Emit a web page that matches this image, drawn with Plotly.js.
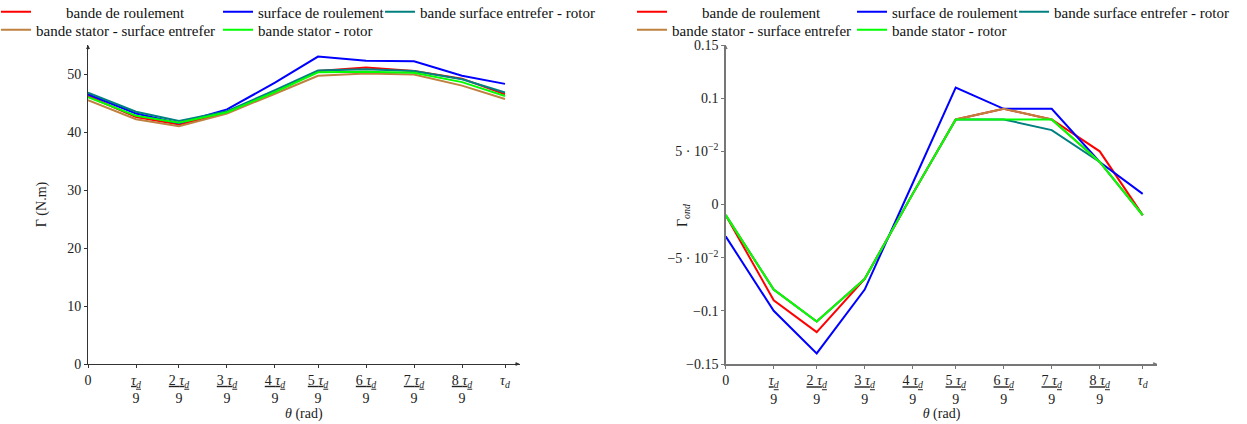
<!DOCTYPE html>
<html><head><meta charset="utf-8">
<script src="https://cdn.plot.ly/plotly-3.0.1.min.js"></script>
<style>html,body{margin:0;padding:0;background:#fff}#chart{width:1247px;height:424px}</style>
</head><body><div id="chart"></div>
<script>
// angular positions, as fractions of tau_d
const thetaPos = [0, 0.1151, 0.2182, 0.3333, 0.4484, 0.5516, 0.6667, 0.7818, 0.8969, 1];
const thetaLabels = ["0",
  "<u><i>τ</i><sub><i>d</i></sub></u><br>9",
  "<u>2 <i>τ</i><sub><i>d</i></sub></u><br>9",
  "<u>3 <i>τ</i><sub><i>d</i></sub></u><br>9",
  "<u>4 <i>τ</i><sub><i>d</i></sub></u><br>9",
  "<u>5 <i>τ</i><sub><i>d</i></sub></u><br>9",
  "<u>6 <i>τ</i><sub><i>d</i></sub></u><br>9",
  "<u>7 <i>τ</i><sub><i>d</i></sub></u><br>9",
  "<u>8 <i>τ</i><sub><i>d</i></sub></u><br>9",
  "<i>τ</i><sub><i>d</i></sub>"];

const seriesNames = ["bande de roulement", "surface de roulement", "bande surface entrefer - rotor",
  "bande stator - surface entrefer", "bande stator - rotor"];

// Torque Γ (N.m)
const torqueBandeRoulement   = [46.2, 42.6, 41.3, 43.3, 47.0, 50.5, 51.1, 50.5, 49.2, 46.5];
const torqueSurfaceRoulement = [46.5, 43.2, 41.5, 43.9, 48.5, 53.0, 52.3, 52.2, 49.7, 48.3];
const torqueSurfEntRotor     = [46.8, 43.5, 41.9, 43.6, 47.2, 50.6, 50.8, 50.5, 49.1, 46.8];
const torqueStatorSurfEnt    = [45.5, 42.2, 41.0, 43.2, 46.6, 49.7, 50.1, 49.9, 48.0, 45.7];
const torqueStatorRotor      = [46.0, 42.8, 41.6, 43.4, 46.9, 50.3, 50.4, 50.2, 48.6, 46.2];

// Ripple Γ_ond
const rippleBandeRoulement   = [-0.01, -0.09, -0.12, -0.07, 0.01, 0.08, 0.09, 0.08, 0.05, -0.01];
const rippleSurfaceRoulement = [-0.03, -0.10, -0.14, -0.08, 0.02, 0.11, 0.09, 0.09, 0.04, 0.01];
const rippleSurfEntRotor     = [-0.01, -0.08, -0.11, -0.07, 0.01, 0.08, 0.08, 0.07, 0.04, -0.01];
const rippleStatorSurfEnt    = [-0.01, -0.08, -0.11, -0.07, 0.01, 0.08, 0.09, 0.08, 0.04, -0.01];
const rippleStatorRotor      = [-0.01, -0.08, -0.11, -0.07, 0.01, 0.08, 0.08, 0.08, 0.04, -0.01];

const rippleTickVals = [-0.15, -0.1, -0.05, 0, 0.05, 0.1, 0.15];
const rippleTickText = ["−0.15", "−0.1", "−5 · 10<sup>−2</sup>", "0", "5 · 10<sup>−2</sup>", "0.1", "0.15"];
const torqueTickVals = [0, 10, 20, 30, 40, 50];

const colors = ["#ff0000", "#0000ff", "#008080", "#bf8040", "#00ff00"];
const pad = "\u00a0".repeat(8);
const legendText = [pad + seriesNames[0], seriesNames[1], seriesNames[2], seriesNames[3], seriesNames[4]];

const torque = [torqueBandeRoulement, torqueSurfaceRoulement, torqueSurfEntRotor, torqueStatorSurfEnt, torqueStatorRotor];
const ripple = [rippleBandeRoulement, rippleSurfaceRoulement, rippleSurfEntRotor, rippleStatorSurfEnt, rippleStatorRotor];

const W = 1247, H = 424;
const FAM = "Liberation Serif";
const font = {family: FAM, size: 14, color: "#222"};
const legFont = {family: FAM, size: 15, color: "#111"};
// legend slots: [left px, row centre px] for each series, left chart then right chart
const legLeft = [[-4, 12], [218, 12], [380, 12], [-4, 30], [218, 30]];
const legRight = [[632, 12], [852, 12], [1014, 12], [632, 30], [852, 30]];

const traces = [];
const layoutLegends = {};
function leg(p) {
  return {x: p[0] / W, y: 1 - p[1] / H, xref: "paper", yref: "paper", xanchor: "left", yanchor: "middle",
    orientation: "v", bgcolor: "rgba(0,0,0,0)", borderwidth: 0, font: legFont, itemwidth: 30, tracegroupgap: 0,
    visible: true};
}
torque.forEach((ys, i) => {
  const lg = i === 0 ? "legend" : "legend" + (i + 1);
  layoutLegends[lg] = leg(legLeft[i]);
  traces.push({x: thetaPos, y: ys, mode: "lines", name: legendText[i], showlegend: true,
    line: {color: colors[i], width: 2}, xaxis: "x", yaxis: "y", legend: lg});
});
ripple.forEach((ys, i) => {
  const lg = "legend" + (i + 6);
  layoutLegends[lg] = leg(legRight[i]);
  traces.push({x: thetaPos, y: ys, mode: "lines", name: legendText[i], showlegend: true,
    line: {color: colors[i], width: 2}, xaxis: "x2", yaxis: "y2", legend: lg});
});

const yDom = [1 - 364 / H, 1 - 45 / H];
function xax(dom, lineColor, lw) {
  return {domain: dom, range: [0, 1.035], tickvals: thetaPos, ticktext: thetaLabels, ticks: "outside",
    ticklen: 3, tickcolor: lineColor, showline: true, linecolor: lineColor, linewidth: lw,
    showgrid: false, zeroline: false, tickfont: font, tickangle: 0,
    title: {text: "<i>θ</i> (rad)", font: font, standoff: 0}};
}
const layout = Object.assign({
  width: W, height: H, margin: {l: 0, r: 0, t: 0, b: 0, autoexpand: false},
  showlegend: true,
  paper_bgcolor: "#fff", plot_bgcolor: "#fff", font: font,
  xaxis: xax([88 / W, 519.6 / W], "#333", 1),
  yaxis: {domain: yDom, range: [0, 55], tickvals: torqueTickVals, ticks: "outside", ticklen: 3, tickcolor: "#333",
    showline: true, linecolor: "#333", linewidth: 1, showgrid: false, zeroline: false, tickfont: font,
    title: {text: "Γ (N.m)", font: font, standoff: 17}},
  xaxis2: xax([725.7 / W, 1157.3 / W], "#777", 1.5),
  yaxis2: {domain: yDom, range: [-0.15, 0.15], tickvals: rippleTickVals, ticktext: rippleTickText, ticks: "outside",
    ticklen: 3, tickcolor: "#777", showline: true, linecolor: "#777", linewidth: 1.5, showgrid: false, zeroline: false,
    tickfont: font, anchor: "x2"},
  annotations: [
    {xref: "paper", yref: "paper", x: 683 / W, y: 1 - 215 / H, xanchor: "center", yanchor: "middle", textangle: -90,
      text: "Γ<sub><i>ond</i></sub>", showarrow: false, font: font},
    {xref: "x", yref: "y", x: 1.035, y: 0, ax: -6, ay: 0, text: "", showarrow: true, arrowhead: 2, arrowsize: 0.8, arrowwidth: 1, arrowcolor: "#333"},
    {xref: "x", yref: "y", x: 0, y: 55, ax: 0, ay: 6, text: "", showarrow: true, arrowhead: 2, arrowsize: 0.8, arrowwidth: 1, arrowcolor: "#333"},
    {xref: "x2", yref: "y2", x: 1.035, y: -0.15, ax: -6, ay: 0, text: "", showarrow: true, arrowhead: 2, arrowsize: 0.8, arrowwidth: 1, arrowcolor: "#777"},
    {xref: "x2", yref: "y2", x: 0, y: 0.15, ax: 0, ay: 6, text: "", showarrow: true, arrowhead: 2, arrowsize: 0.8, arrowwidth: 1, arrowcolor: "#777"}
  ]
}, layoutLegends);
Plotly.newPlot("chart", traces, layout, {staticPlot: true, displayModeBar: false});
</script></body></html>
